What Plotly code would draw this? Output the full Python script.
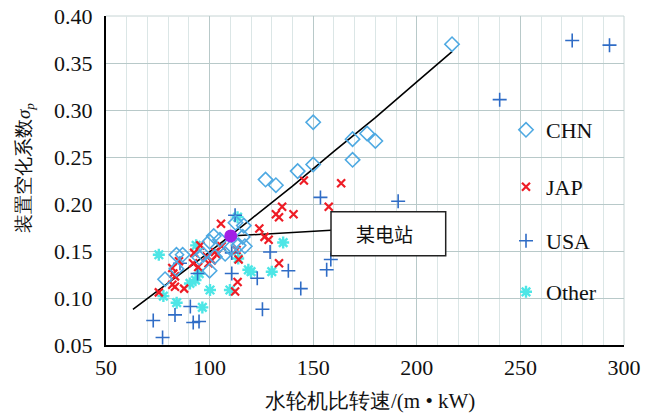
import plotly.graph_objects as go

# ---------------- data ----------------
chn_x = [217, 150, 176, 169, 180, 169, 150, 142.5, 127, 132, 116.5, 112.5, 116, 117, 102, 100,
         105, 107.5, 102.5, 110, 100, 97, 95, 84, 87, 78.5, 84, 114]
chn_y = [0.370, 0.287, 0.275, 0.269, 0.267, 0.247, 0.242, 0.235, 0.226, 0.220, 0.177, 0.180,
         0.165, 0.155, 0.166, 0.160, 0.162, 0.147, 0.144, 0.153, 0.129, 0.146, 0.143, 0.146,
         0.146, 0.120, 0.131, 0.156]

jap_x = [145.5, 163.5, 135, 157.5, 132, 133.5, 140.5, 124, 126.5, 128.5, 133.5, 105.5, 105.8,
         103.5, 113, 114, 101, 99.5, 92, 94.5, 95.5, 92.5, 85.2, 82, 83.3, 82, 83.3, 87.7, 75.5,
         113.5, 112.3, 98.6, 102.6, 82.5]
jap_y = [0.225, 0.222, 0.197, 0.197, 0.189, 0.186, 0.189, 0.174, 0.165, 0.162, 0.137, 0.179,
         0.155, 0.146, 0.151, 0.141, 0.140, 0.137, 0.137, 0.133, 0.156, 0.148, 0.139, 0.132,
         0.123, 0.114, 0.112, 0.110, 0.106, 0.117, 0.107, 0.144, 0.149, 0.126]

usa_x = [275, 293, 240, 191, 153.5, 158.5, 156.5, 144, 138, 129.2, 123, 125.5, 110.7, 110.7,
         112.3, 90.7, 83.3, 72.8, 92.1, 94.9, 77.3, 85.7, 94.2]
usa_y = [0.374, 0.369, 0.311, 0.203, 0.207, 0.141, 0.130, 0.110, 0.129, 0.149, 0.121, 0.088,
         0.126, 0.148, 0.188, 0.091, 0.082, 0.076, 0.074, 0.075, 0.058, 0.137, 0.126]

oth_x = [75.5, 77.7, 84.1, 96.5, 93.5, 100.2, 109.8, 90.5, 93.2, 95.0, 118.7, 120.0, 130.0,
         135.5, 113.5, 113.8]
oth_y = [0.146, 0.102, 0.095, 0.090, 0.156, 0.1085, 0.1085, 0.1155, 0.119, 0.126, 0.130, 0.128,
         0.128, 0.159, 0.186, 0.142]

fit_x = [63, 80, 100, 120, 140, 160, 180, 200, 217]
fit_y = [0.088, 0.116, 0.149, 0.184, 0.219, 0.256, 0.292, 0.330, 0.362]

station_x = [110.2]
station_y = [0.166]
station_label = "某电站"
label_anchor_x = [158.6]
label_anchor_y = [0.172]

series_names = ["CHN", "JAP", "USA", "Other"]
x_ticks = [50, 100, 150, 200, 250, 300]
y_ticks = [0.05, 0.10, 0.15, 0.20, 0.25, 0.30, 0.35, 0.40]

# ---------------- layout geometry (pixels) ----------------
W, H = 652, 415
L, R, T, B = 106, 28, 16, 70
PW, PH = W - L - R, H - T - B


def px(xp):
    return (xp - L) / PW


def py(yp):
    return (H - B - yp) / PH


SERIF = "Liberation Serif"
CJK = "Noto Sans CJK SC"
FS = 22

fig = go.Figure()

# fitted curve
fig.add_trace(go.Scatter(x=fit_x, y=fit_y, mode="lines", line=dict(color="black", width=1.6),
                         showlegend=False, hoverinfo="skip"))

# connector from station to label
fig.add_trace(go.Scatter(x=[station_x[0], label_anchor_x[0]], y=[station_y[0], label_anchor_y[0]],
                         mode="lines", line=dict(color="black", width=1.5),
                         showlegend=False, hoverinfo="skip"))

styles = [
    dict(symbol="diamond-open", size=11, color="#4ea9e2", line=dict(width=1.6, color="#4ea9e2")),
    dict(symbol="x-thin-open", size=8, color="#ee1c25", line=dict(width=2.2, color="#ee1c25")),
    dict(symbol="cross-thin-open", size=10, color="#2f6cc6", line=dict(width=1.6, color="#2f6cc6")),
    dict(symbol="asterisk-open", size=10, color="#4ee6e6", line=dict(width=2.4, color="#4ee6e6")),
]
xs = [chn_x, jap_x, usa_x, oth_x]
ys = [chn_y, jap_y, usa_y, oth_y]
legend_ids = ["legend", "legend2", "legend3", "legend4"]
for i in [3, 2, 1, 0]:
    fig.add_trace(go.Scatter(x=xs[i], y=ys[i], mode="markers", name=series_names[i],
                             marker=styles[i], legend=legend_ids[i]))

# the station point
fig.add_trace(go.Scatter(x=station_x, y=station_y, mode="markers",
                         marker=dict(symbol="circle", size=13, color="#a21fe6"),
                         showlegend=False))

legend_rows = [130, 187, 241, 292]
legend_common = dict(bgcolor="rgba(255,255,255,0)", borderwidth=0,
                     font=dict(family=SERIF, size=FS, color="#111"),
                     xanchor="left", yanchor="middle", itemwidth=30)
leg_layout = {}
for lid, row in zip(legend_ids, legend_rows):
    leg_layout[lid] = dict(legend_common, x=px(506), y=py(row))

fig.update_layout(
    width=W, height=H,
    margin=dict(l=L, r=R, t=T, b=B, autoexpand=False),
    paper_bgcolor="white", plot_bgcolor="white",
    font=dict(family=SERIF, size=FS, color="#111"),
    xaxis=dict(range=[50, 300], tickvals=x_ticks, ticktext=[str(v) for v in x_ticks],
               showgrid=True, gridcolor="#b8c9c9", gridwidth=1,
               minor=dict(dtick=10, showgrid=True, gridcolor="#dbe6e6", gridwidth=1),
               showline=True, linecolor="black", linewidth=2, ticks="",
               zeroline=False, ticklabelstandoff=2,
               tickfont=dict(family=SERIF, size=FS, color="#111")),
    yaxis=dict(range=[0.05, 0.40], tickvals=y_ticks, ticktext=[f"{v:.2f}" for v in y_ticks],
               showgrid=True, gridcolor="#b8c9c9", gridwidth=1,
               showline=True, linecolor="black", linewidth=2, ticks="",
               zeroline=False, ticklabelstandoff=7,
               tickfont=dict(family=SERIF, size=FS, color="#111")),
    hovermode=False,
    **leg_layout,
)

# white legend panel, right/top light borders
fig.add_shape(type="rect", xref="paper", yref="paper", x0=px(492), x1=px(622), y0=py(320), y1=py(108),
              fillcolor="white", line=dict(width=0), layer="between")
fig.add_shape(type="line", xref="paper", yref="paper", x0=0, x1=1, y0=1, y1=1,
              line=dict(color="#c6d4d4", width=1), layer="below")
fig.add_shape(type="line", xref="paper", yref="paper", x0=1, x1=1, y0=0, y1=1,
              line=dict(color="#c6d4d4", width=1), layer="below")

# label box
fig.add_shape(type="rect", xref="paper", yref="paper", x0=px(331), x1=px(445.7), y0=py(255.7), y1=py(211.7),
              fillcolor="white", line=dict(color="#222", width=1.5), layer="above")
fig.add_annotation(xref="paper", yref="paper", x=px(384), y=py(233.5), text=station_label,
                   showarrow=False, font=dict(family=CJK, size=19, color="#111"),
                   xanchor="center", yanchor="middle")

# axis titles
fig.add_annotation(xref="paper", yref="paper", x=px(370), y=py(401),
                   text="水轮机比转速/(m • kW)", showarrow=False,
                   font=dict(family=SERIF, size=21, color="#111"), xanchor="center", yanchor="middle")
fig.add_annotation(xref="paper", yref="paper", x=px(25), y=py(168),
                   text="装置空化系数<i>σ</i><sub><i>p</i></sub>", showarrow=False, textangle=-90,
                   font=dict(family=SERIF, size=19, color="#111"), xanchor="center", yanchor="middle")

fig.write_html("out.html", config={"displayModeBar": False},
               post_script="document.body.style.margin='0';document.body.style.padding='0';")
